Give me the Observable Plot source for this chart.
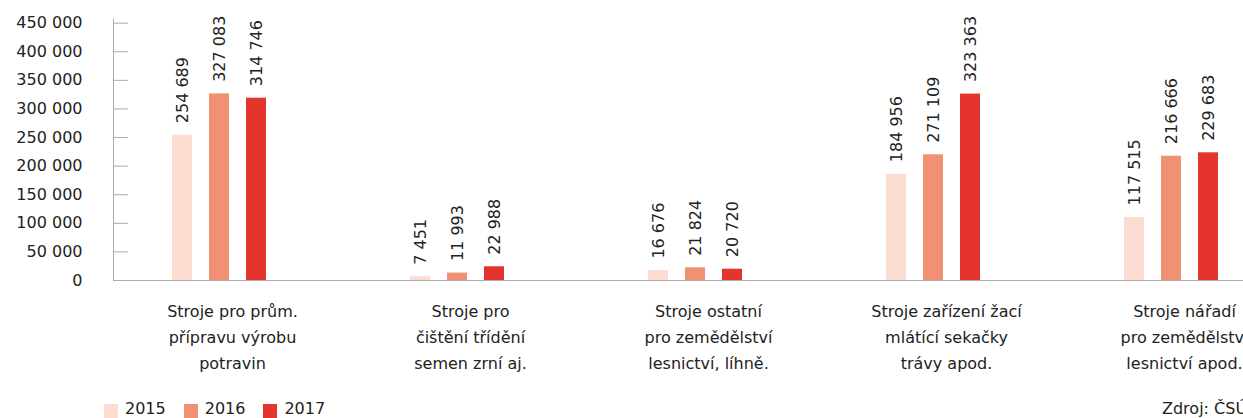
<!DOCTYPE html>
<html>
<head>
<meta charset="utf-8">
<script src="https://cdn.jsdelivr.net/npm/d3@7"></script>
<script src="https://cdn.jsdelivr.net/npm/@observablehq/plot@0.6"></script>
<style>
  html, body { margin: 0; padding: 0; background: #fff; overflow: hidden; }
  #wrap { position: relative; width: 1243px; height: 418px; overflow: hidden; font-family: "DejaVu Sans", sans-serif; color: #222; }
  #chart svg { max-width: none !important; }
  #legend { position: absolute; left: 104px; top: 400px; display: flex; font-size: 16px; line-height: 18px; }
  #legend .item { display: flex; align-items: flex-start; margin-right: 18px; }
  #legend .sw { width: 14px; height: 14px; margin-top: 4px; margin-right: 7px; }
  #source { position: absolute; left: 1162px; top: 400px; font-size: 16px; line-height: 18px; white-space: nowrap; }
</style>
</head>
<body>
<div id="wrap">
  <div id="chart"></div>
  <div id="legend"></div>
  <div id="source">Zdroj: ČSÚ</div>
</div>
<script>
// ---- data ----
const categories = [
  "Stroje pro prům.\npřípravu výrobu\npotravin",
  "Stroje pro\nčištění třídění\nsemen zrní aj.",
  "Stroje ostatní\npro zemědělství\nlesnictví, líhně.",
  "Stroje zařízení žací\nmlátící sekačky\ntrávy apod.",
  "Stroje nářadí\npro zemědělství\nlesnictví apod."
];
const years = ["2015", "2016", "2017"];
// printed value labels
const labels2015 = [254689, 7451, 16676, 184956, 117515];
const labels2016 = [327083, 11993, 21824, 271109, 216666];
const labels2017 = [314746, 22988, 20720, 323363, 229683];
// bar heights as drawn in the picture
const bars2015 = [254100, 6500, 17300, 185900, 110200];
const bars2016 = [326400, 13000, 22200, 219800, 217400];
const bars2017 = [318800, 24000, 19800, 326000, 223300];
const yTicks = [0, 50000, 100000, 150000, 200000, 250000, 300000, 350000, 400000, 450000];
const colors = ["#fcdcd0", "#f09174", "#e5332d"];

const labelSets = [labels2015, labels2016, labels2017];
const barSets = [bars2015, bars2016, bars2017];
const data = categories.flatMap((c, i) => years.map((yr, j) => ({
  category: c, year: yr, bar: barSets[j][i], value: labelSets[j][i]
})));

const fmt = d3.formatLocale({thousands: " ", grouping: [3], decimal: ",", currency: ["", ""]}).format(",");

const chart = Plot.plot({
  width: 1310,
  height: 398,
  marginLeft: 113,
  marginRight: 7,
  marginTop: 22.67,
  marginBottom: 118,
  style: {fontFamily: "DejaVu Sans, sans-serif", fontSize: "16px", color: "#222", background: "white", overflow: "visible", maxWidth: "none"},
  fx: {domain: categories, padding: 0, label: null},
  x: {domain: years, paddingInner: 0.448, paddingOuter: 1.897, align: 0.4125, axis: null},
  y: {domain: [0, 450000], label: null},
  color: {domain: years, range: colors},
  marks: [
    Plot.frame({anchor: "left", stroke: "#aaa", facetAnchor: "left", insetTop: -4}),
    Plot.ruleY([0], {stroke: "#aaa"}),
    Plot.axisY({ticks: yTicks, tickSize: -15, tickPadding: 46, tickFormat: fmt, stroke: "#aaa", fill: "#222", fontSize: 16, label: null}),
    Plot.barY(data, {fx: "category", x: "year", y: "bar", fill: "year"}),
    Plot.text(data, {fx: "category", x: "year", y: "bar", text: d => fmt(d.value), rotate: -90, textAnchor: "start", dy: -12, fontSize: 16, fill: "#222"}),
    Plot.axisFx({anchor: "bottom", tickSize: 0, tickPadding: 18, fontSize: 16, lineHeight: 1.625, label: null, fill: "#222"})
  ]
});
document.getElementById("chart").appendChild(chart);

const legend = document.getElementById("legend");
years.forEach((yr, j) => {
  const item = document.createElement("div");
  item.className = "item";
  const sw = document.createElement("span");
  sw.className = "sw";
  sw.style.background = colors[j];
  const t = document.createElement("span");
  t.textContent = yr;
  item.appendChild(sw);
  item.appendChild(t);
  legend.appendChild(item);
});
</script>
</body>
</html>
